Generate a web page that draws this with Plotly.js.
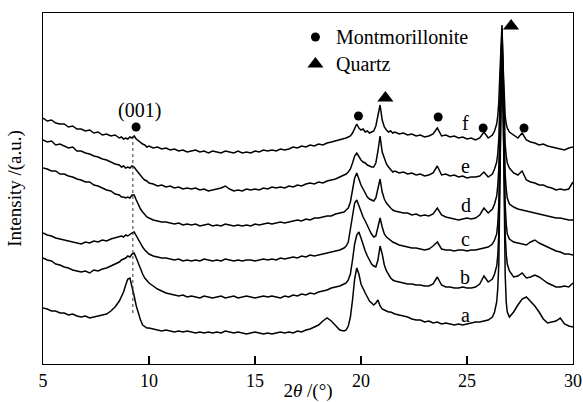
<!DOCTYPE html>
<html>
<head>
<meta charset="utf-8">
<script src="https://cdn.plot.ly/plotly-3.0.1.min.js"></script>
<style>html,body{margin:0;padding:0;background:#fff;}#chart{width:583px;height:402px;}</style>
</head>
<body>
<div id="chart"></div>
<script>
// 2-theta grid (degrees)
const twoTheta = [
 5.0,5.2,5.4,5.6,5.8,6.0,6.2,6.4,6.6,6.8,7.0,7.2,7.4,7.6,7.8,8.0,8.2,8.4,8.6,
 8.7,8.8,8.9,9.0,9.1,9.2,9.3,9.4,9.5,9.6,9.7,9.8,9.9,10.0,
 10.2,10.4,10.6,10.8,11.0,11.2,11.4,11.6,11.8,12.0,12.2,12.4,12.6,12.8,13.0,13.2,13.4,13.6,13.8,14.0,
 14.2,14.4,14.6,14.8,15.0,15.2,15.4,15.6,15.8,16.0,16.2,16.4,16.6,16.8,17.0,17.2,17.4,17.6,17.8,
 18.0,18.2,18.4,18.6,18.8,19.0,19.2,
 19.3,19.4,19.5,19.6,19.7,19.8,19.9,20.0,20.1,20.2,20.3,20.4,20.5,20.6,20.7,20.8,20.9,21.0,21.1,21.2,21.3,21.4,21.5,21.6,
 21.8,22.0,22.2,22.4,22.6,22.8,23.0,23.2,23.4,23.6,23.8,24.0,24.2,24.4,24.6,24.8,25.0,25.2,25.4,25.6,25.8,26.0,26.2,
 26.3,26.4,26.45,26.5,26.55,26.6,26.65,26.7,26.75,26.8,26.85,26.9,27.0,
 27.2,27.4,27.6,27.8,28.0,28.2,28.4,28.6,28.8,29.0,29.2,29.4,29.6,29.8,30.0
];

// Intensities (a.u., stacked with offsets as in the figure)
const seriesA = [
 56,55,53,53,51,51,49,50,48,47,48,46,47,48,49,50,53,57,63,
 67,72,79,85,86,78,68,58,50,44,39,37,36,36,
 35,34,33,34,33,32,33,32,33,32,31,32,31,32,31,32,31,33,32,31,
 32,31,30,31,32,31,30,31,30,31,32,31,32,31,33,32,34,35,37,
 39,43,46,43,38,34,33,
 34,38,47,64,85,96,90,80,75,71,67,63,61,59,61,64,58,55,54,53,52,52,51,50,
 49,48,47,45,44,44,42,43,41,42,40,41,40,39,40,39,40,41,42,42,43,44,47,
 52,62,75,100,170,270,326,270,160,90,62,52,47,
 52,59,65,67,63,58,52,45,41,42,43,46,40,38,37
];
const seriesB = [
 106,104,103,100,99,97,96,94,93,92,93,91,94,93,95,96,98,100,102,
 104,105,106,108,107,110,111,106,100,95,90,86,83,81,
 78,75,73,71,70,69,68,69,67,68,67,66,68,67,66,67,68,66,67,68,
 66,67,68,67,66,67,68,67,68,67,66,68,67,69,68,70,69,71,70,
 72,73,74,76,77,78,80,
 81,84,90,104,120,129,132,126,119,113,108,104,100,98,97,104,118,110,99,93,89,86,84,83,
 82,81,80,80,79,79,78,78,80,87,79,77,77,76,76,77,76,76,77,80,88,82,85,
 90,98,108,130,190,280,330,260,180,130,110,100,93,
 87,88,91,86,87,89,87,84,81,79,77,77,78,77,81
];
const seriesC = [
 131,129,128,126,125,124,123,122,121,120,122,121,123,122,124,123,125,126,127,
 128,127,129,128,130,131,132,128,124,120,117,114,112,110,
 108,107,106,106,105,104,105,103,104,103,104,103,105,104,103,104,103,105,104,103,
 104,103,104,104,103,104,105,104,105,104,106,105,106,107,106,108,107,109,108,
 109,110,111,112,113,114,116,
 118,122,134,150,161,164,158,152,147,143,138,134,130,127,128,136,146,137,130,127,125,123,122,121,
 119,118,117,116,116,115,114,115,118,122,115,114,114,113,114,114,113,114,114,115,116,117,120,
 124,130,140,160,210,290,334,270,200,160,140,130,125,
 122,121,120,119,122,124,121,119,117,115,113,112,110,110,109
];
const seriesD = [
 196,195,193,193,190,190,188,187,185,184,182,182,179,178,176,174,173,170,169,
 167,167,166,167,166,169,169,164,159,155,152,149,147,146,
 144,143,142,142,141,140,141,139,140,139,140,138,139,140,138,139,138,140,139,138,
 139,138,139,138,140,139,140,141,140,141,142,141,142,143,144,143,145,144,146,
 146,147,148,148,150,151,152,
 154,156,162,174,186,191,184,179,175,171,167,165,164,163,166,176,185,172,165,161,158,156,154,153,
 152,151,151,149,150,148,149,148,150,156,149,147,146,145,144,145,146,145,146,149,156,151,155,
 160,168,178,195,235,300,332,280,220,190,175,166,160,
 157,155,154,153,152,151,150,149,148,147,146,146,145,144,144
];
const seriesE = [
 224,222,223,219,220,218,216,217,213,213,211,210,208,207,205,204,202,200,199,
 197,198,196,197,196,198,197,194,191,189,186,184,183,181,
 180,178,179,177,178,176,177,175,176,175,176,174,175,173,174,175,176,178,175,173,
 174,173,175,174,175,174,176,175,177,176,177,176,178,177,179,178,180,181,180,
 182,181,183,184,185,187,189,
 190,192,195,201,208,211,207,204,202,201,199,198,197,197,201,213,228,212,205,200,197,194,192,193,
 191,192,190,191,189,190,188,189,191,198,189,190,188,189,187,188,186,187,187,188,192,187,190,
 195,202,210,225,260,310,336,295,245,220,208,201,196,
 191,189,193,184,182,181,179,179,177,176,174,175,174,175,182
];
const seriesF = [
 246,243,244,241,240,240,237,238,235,235,233,234,231,232,229,230,228,229,226,
 227,225,226,225,227,226,228,225,223,221,220,219,217,218,
 216,217,215,216,214,215,213,214,212,213,214,212,213,211,213,212,211,213,212,211,
 213,211,212,211,213,212,214,213,214,213,215,214,215,217,216,218,217,219,218,
 220,219,221,222,223,224,225,
 226,227,228,231,236,240,236,234,235,232,233,231,232,233,238,250,259,244,237,234,232,233,231,232,
 230,231,229,230,228,229,227,228,230,236,228,229,227,228,226,227,225,226,224,226,232,226,229,
 233,240,248,262,290,325,339,300,265,248,240,236,232,
 229,226,231,224,222,221,219,220,218,217,216,215,214,216,217
];
const seriesNames = ['a','b','c','d','e','f'];

// Phase markers
const montX = [9.39, 19.88, 23.64, 25.76, 27.69];
const montY = [237, 248, 247, 236, 236];
const quartzX = [21.15, 27.08];
const quartzY = [266, 338];
const legendKeyX = [17.85];
const legendMontY = [327];
const legendQuartzY = [300];
const phaseNames = ['Montmorillonite', 'Quartz'];

// dotted guide at the (001) reflection
const guideX = [9.24, 9.24];
const guideY = [51, 231];

// curve letter label positions
const labelX = [24.92, 24.92, 24.92, 24.95, 24.92, 24.92];
const labelY = [49, 87, 125, 159, 198, 241];

const xTicks = [5, 10, 15, 20, 25, 30];

const FONT = 'Times New Roman, Liberation Serif, serif';
const allSeries = [seriesA, seriesB, seriesC, seriesD, seriesE, seriesF];

const traces = allSeries.map((s, i) => ({
  x: twoTheta, y: s, type: 'scatter', mode: 'lines', name: seriesNames[i],
  line: {color: '#000', width: 1.5}, hoverinfo: 'skip'
}));
traces.push({x: guideX, y: guideY, mode: 'lines', type: 'scatter',
  line: {color: '#333', width: 1, dash: 'dot'}, hoverinfo: 'skip'});
traces.push({x: montX, y: montY, mode: 'markers', type: 'scatter',
  marker: {symbol: 'circle', size: 9, color: '#000'}, hoverinfo: 'skip'});
traces.push({x: quartzX, y: quartzY, mode: 'markers', type: 'scatter',
  marker: {symbol: 'triangle-up', size: 14, color: '#000'}, hoverinfo: 'skip'});
traces.push({x: legendKeyX, y: legendMontY, mode: 'markers', type: 'scatter',
  marker: {symbol: 'circle', size: 9, color: '#000'}, hoverinfo: 'skip'});
traces.push({x: legendKeyX, y: legendQuartzY, mode: 'markers', type: 'scatter',
  marker: {symbol: 'triangle-up', size: 14, color: '#000'}, hoverinfo: 'skip'});

const annotations = [];
seriesNames.forEach((n, i) => annotations.push({
  x: labelX[i], y: labelY[i], xref: 'x', yref: 'y', text: n, showarrow: false,
  font: {family: FONT, size: 20, color: '#000'}
}));
annotations.push({x: 9.57, y: 254, xref: 'x', yref: 'y', text: '(001)', showarrow: false,
  font: {family: FONT, size: 20, color: '#000'}});
annotations.push({x: 18.72, y: legendMontY[0], xref: 'x', yref: 'y', text: phaseNames[0], showarrow: false,
  xanchor: 'left', font: {family: FONT, size: 20, color: '#000'}});
annotations.push({x: 18.72, y: legendQuartzY[0], xref: 'x', yref: 'y', text: phaseNames[1], showarrow: false,
  xanchor: 'left', font: {family: FONT, size: 20, color: '#000'}});

const layout = {
  width: 583, height: 402,
  margin: {l: 43, r: 10, t: 13, b: 38},
  paper_bgcolor: '#fff', plot_bgcolor: '#fff',
  showlegend: false,
  font: {family: FONT, color: '#000', size: 18},
  xaxis: {
    range: [5, 30], tickvals: xTicks, ticktext: xTicks.map(String),
    ticks: 'inside', ticklen: 8, tickwidth: 1.3, tickcolor: '#000',
    showline: true, linecolor: '#000', linewidth: 1.3, mirror: true,
    showgrid: false, zeroline: false,
    tickfont: {family: FONT, size: 18, color: '#000'},
    title: {text: '2<i>θ</i> /(°)', font: {family: FONT, size: 19, color: '#000'}, standoff: 0}
  },
  yaxis: {
    range: [0, 351], showticklabels: false, ticks: '',
    showline: true, linecolor: '#000', linewidth: 1.3, mirror: true,
    showgrid: false, zeroline: false,
    title: {text: 'Intensity /(a.u.)', font: {family: FONT, size: 19, color: '#000'}, standoff: 15}
  },
  annotations: annotations
};

Plotly.newPlot('chart', traces, layout, {staticPlot: true, displayModeBar: false});
</script>
</body>
</html>
